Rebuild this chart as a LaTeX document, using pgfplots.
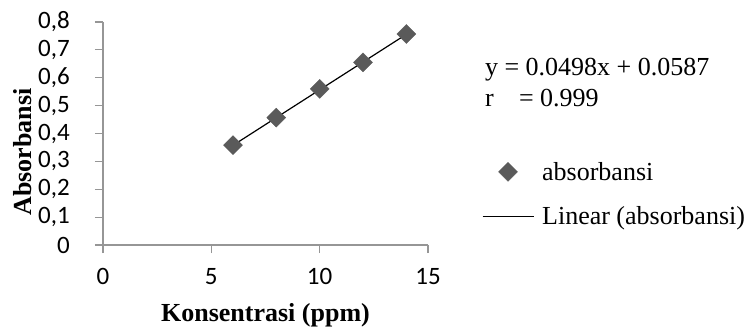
\documentclass[border=0pt]{standalone}
\usepackage{fontspec}
\setmainfont{Liberation Serif}
\newfontfamily\tickfont{Carlito}
\usepackage{pgfplots}
\pgfplotsset{compat=1.18}
\definecolor{axgray}{RGB}{150,150,150}
\definecolor{markgray}{RGB}{90,90,90}
\newcommand{\serifsize}{\fontsize{26bp}{31bp}\selectfont}
\newcommand{\ticksize}{\tickfont\fontsize{25bp}{29bp}\selectfont}
\pgfplotsset{
  scatleg/.style={legend image code/.code={\path[draw=none,fill=none] (0bp,0bp) -- (51bp,0bp);
    \draw[##1] plot coordinates {(25.5bp,0bp)};}},
  lineleg/.style={legend image code/.code={\draw[##1] (0bp,0bp) -- (51bp,0bp);}},
}
\begin{document}
\begin{tikzpicture}
\begin{axis}[
  scale only axis, width=325bp, height=223bp,
  xmin=0, xmax=15, ymin=0, ymax=0.8,
  clip=false,
  axis lines*=left,
  axis line style={draw=axgray, line width=1.2bp},
  tick style={draw=axgray, line width=1.2bp},
  major tick length=8bp,
  tick align=outside,
  xtick={0,5,10,15},
  xticklabels={0,5,10,15},
  ytick={0,0.1,0.2,0.3,0.4,0.5,0.6,0.7,0.8},
  yticklabels={0,{0,1},{0,2},{0,3},{0,4},{0,5},{0,6},{0,7},{0,8}},
  xticklabel style={font=\ticksize, anchor=base, inner sep=0pt, yshift=-31bp},
  yticklabel style={font=\ticksize, anchor=east, inner sep=0pt, xshift=-25bp},
  xlabel={\textbf{Konsentrasi (ppm)}},
  xlabel style={font=\serifsize, at={(axis description cs:0.5,-0.341)}, anchor=base},
  ylabel={\textbf{Absorbansi}},
  ylabel style={font=\serifsize, at={(axis description cs:-0.248,0.417)}, anchor=center},
  legend style={draw=none, fill=none, inner sep=0pt, outer sep=0pt,
    font=\serifsize, at={(axis description cs:1.166,0.372)}, anchor=north west,
    row sep=25bp, column sep=8bp, nodes={inner sep=0pt}},
  legend cell align=left,
]
\addplot[only marks, mark=square*, mark size=6.7bp,
  mark options={rotate=45, fill=markgray, draw=markgray}, scatleg]
  coordinates {(6,0.358) (8,0.457) (10,0.560) (12,0.655) (14,0.757)};
\addlegendentry{absorbansi}
\addplot[black, line width=1.2bp, mark=none, lineleg]
  coordinates {(6,0.3575) (14,0.7559)};
\addlegendentry{Linear (absorbansi)}
\node[anchor=base west, font=\serifsize, inner sep=0pt] at (rel axis cs:1.175,0.762) {y = 0.0498x + 0.0587};
\node[anchor=base west, font=\serifsize, inner sep=0pt] at (rel axis cs:1.175,0.619) {\makebox[34bp][l]{r}= 0.999};
\end{axis}
\path[use as bounding box] (-103bp,-84bp) rectangle (646bp,245bp);
\end{tikzpicture}
\end{document}
